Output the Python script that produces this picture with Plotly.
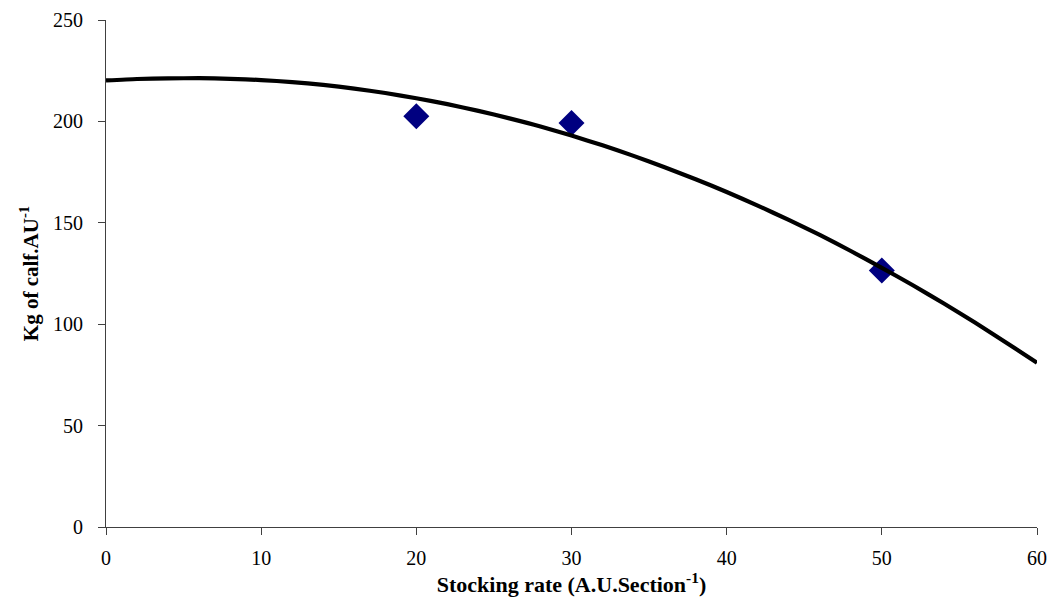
import plotly.graph_objects as go

# Observed data points
obs_x = [20, 30, 50]
obs_y = [202.5, 199.2, 126.5]

# Trend curve values
curve_x = [0, 2, 4, 6, 8, 10, 12, 14, 16, 18, 20, 22, 24, 26, 28, 30,
           32, 34, 36, 38, 40, 42, 44, 46, 48, 50, 52, 54, 56, 58, 60]
curve_y = [220.2, 220.9, 221.2, 221.3, 221.0, 220.4, 219.4, 218.0, 216.2, 214.0,
           211.4, 208.5, 205.2, 201.5, 197.5, 193.0, 188.2, 183.0, 177.4, 171.5,
           165.2, 158.5, 151.4, 144.0, 136.1, 127.8, 119.2, 110.2, 100.8, 91.0, 81.0]

x_ticks = [0, 10, 20, 30, 40, 50, 60]
y_ticks = [0, 50, 100, 150, 200, 250]

fig = go.Figure()
fig.add_trace(go.Scatter(
    x=obs_x, y=obs_y, mode="markers",
    marker=dict(symbol="diamond", size=20, color="#000080", line=dict(width=0)),
    showlegend=False, cliponaxis=False,
))
fig.add_trace(go.Scatter(
    x=curve_x, y=curve_y, mode="lines",
    line=dict(color="black", width=4.2, shape="spline", smoothing=0.6),
    showlegend=False, cliponaxis=False,
))

font_family = "Liberation Serif, Times New Roman, serif"
fig.update_layout(
    width=1050, height=615,
    margin=dict(l=106, r=13, t=20, b=88),
    paper_bgcolor="white", plot_bgcolor="white",
    font=dict(family=font_family, size=20, color="black"),
    xaxis=dict(
        range=[0, 60], tickvals=x_ticks, ticks="outside", ticklen=7,
        tickcolor="#404040", showline=True, linecolor="#404040", linewidth=1,
        showgrid=False, zeroline=False, automargin=False,
        tickfont=dict(family=font_family, size=20), ticklabelstandoff=6,
        ticklabeloverflow="allow",
        title=dict(text="<b>Stocking rate (A.U.Section<sup>-1</sup>)</b>",
                   font=dict(family=font_family, size=22), standoff=8),
    ),
    yaxis=dict(
        range=[0, 250], tickvals=y_ticks, ticks="outside", ticklen=7,
        tickcolor="#404040", showline=True, linecolor="#404040", linewidth=1,
        showgrid=False, zeroline=False, automargin=False,
        tickfont=dict(family=font_family, size=20), ticklabelstandoff=11,
        title=dict(text="<b>Kg of calf.AU<sup>-1</sup></b>",
                   font=dict(family=font_family, size=21), standoff=8),
    ),
)

fig.write_html(
    "out.html",
    config={"displayModeBar": False},
    post_script="document.body.style.margin='0';document.body.style.overflow='hidden';",
)
